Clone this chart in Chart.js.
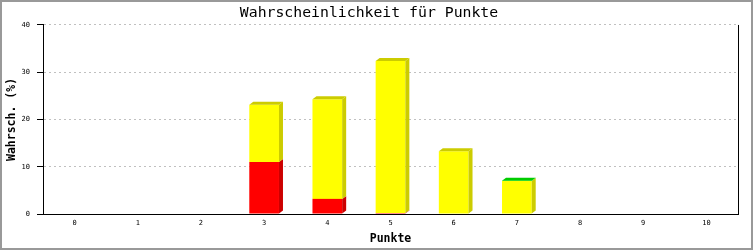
<!DOCTYPE html>
<html>
<head>
<meta charset="utf-8">
<script src="https://cdn.jsdelivr.net/npm/chart.js@4/dist/chart.umd.min.js"></script>
<style>
  body { margin: 0; background: #fff; }
  #wrap { width: 753px; height: 250px; }
</style>
</head>
<body>
<div id="wrap"><canvas id="myChart" width="753" height="250"></canvas></div>
<script>
// Kategorien und Werte
var punkte = ['0', '1', '2', '3', '4', '5', '6', '7', '8', '9', '10'];
var rot = [0, 0, 0, 11.0, 3.2, 0.2, 0, 0, 0, 0, 0];
var gelb = [0, 0, 0, 12.1, 21.1, 32.2, 13.3, 7.0, 0, 0, 0];
var gruen = [0, 0, 0, 0, 0, 0, 0, 0.05, 0, 0, 0];
var yTicks = [0, 10, 20, 30, 40];

var DX = 4, DY = 3;
var font = 'DejaVu Sans Mono';

// 3D-Seiten und Deckel der Balken
var plot3d = {
  id: 'plot3d',
  afterDatasetsDraw: function (chart) {
    var ctx = chart.ctx;
    var n = chart.data.labels.length;
    for (var i = 0; i < n; i++) {
      var topSeg = null;
      chart.data.datasets.forEach(function (ds, di) {
        var meta = chart.getDatasetMeta(di);
        var el = meta.data[i];
        if (!ds.data[i]) return;
        var p = el.getProps(['x', 'y', 'base', 'width'], true);
        var r = p.x + p.width / 2;
        ctx.save();
        ctx.fillStyle = ds.sideColor;
        ctx.beginPath();
        ctx.moveTo(r, p.y);
        ctx.lineTo(r + DX, p.y - DY);
        ctx.lineTo(r + DX, p.base - DY);
        ctx.lineTo(r, p.base);
        ctx.closePath();
        ctx.fill();
        ctx.restore();
        topSeg = { p: p, c: ds.sideColor };
      });
      if (topSeg) {
        var p = topSeg.p;
        var l = p.x - p.width / 2, r = p.x + p.width / 2;
        ctx.save();
        ctx.fillStyle = topSeg.c;
        ctx.beginPath();
        ctx.moveTo(l, p.y);
        ctx.lineTo(l + DX, p.y - DY);
        ctx.lineTo(r + DX, p.y - DY);
        ctx.lineTo(r, p.y);
        ctx.closePath();
        ctx.fill();
        ctx.restore();
      }
    }
  },
  afterDraw: function (chart) {
    var ctx = chart.ctx, a = chart.chartArea;
    ctx.save();
    ctx.strokeStyle = '#000';
    ctx.lineWidth = 1;
    ctx.beginPath();
    ctx.moveTo(Math.round(a.right) + 0.5, a.top);
    ctx.lineTo(Math.round(a.right) + 0.5, a.bottom);
    ctx.stroke();
    ctx.strokeStyle = '#999';
    ctx.lineWidth = 2;
    ctx.strokeRect(1, 1, chart.width - 2, chart.height - 2);
    ctx.restore();
  }
};

var ctx = document.getElementById('myChart');
new Chart(ctx, {
  type: 'bar',
  data: {
    labels: punkte,
    datasets: [
      { label: 'rot', data: rot, backgroundColor: '#ff0000', sideColor: '#cc0000' },
      { label: 'gelb', data: gelb, backgroundColor: '#ffff00', sideColor: '#cccc00' },
      { label: 'grün', data: gruen, backgroundColor: '#00ff00', sideColor: '#00cc00' }
    ]
  },
  options: {
    responsive: false,
    animation: false,
    layout: { padding: { left: 0, right: 15, top: 0, bottom: 0 } },
    datasets: { bar: { barPercentage: 0.47, categoryPercentage: 1 } },
    plugins: {
      legend: { display: false },
      tooltip: { enabled: false },
      title: {
        display: true,
        text: 'Wahrscheinlichkeit für Punkte',
        color: '#000',
        font: { family: font, size: 14.8, weight: 'normal', lineHeight: 1.2 },
        padding: { top: 4, bottom: 3.2 }
      }
    },
    scales: {
      x: {
        stacked: true,
        grid: { display: false, drawTicks: false },
        border: { color: '#000', width: 1 },
        ticks: { color: '#000', font: { family: font, size: 7 }, padding: 5, maxRotation: 0 },
        title: { display: true, text: 'Punkte', color: '#000', font: { family: font, size: 11.5, weight: 'bold' }, padding: { top: 2, bottom: 4 } },
        afterFit: function (s) { s.height = 36; }
      },
      y: {
        stacked: true,
        min: 0,
        max: 40,
        afterBuildTicks: function (s) { s.ticks = yTicks.map(function (v) { return { value: v }; }); },
        grid: { color: '#c0c0c0', tickColor: '#000', tickLength: 6, tickBorderDash: [] },
        border: { color: '#000', width: 1, dash: [2, 3] },
        ticks: { color: '#000', font: { family: font, size: 7 }, padding: 7 },
        title: { display: true, text: 'Wahrsch. (%)', color: '#000', font: { family: font, size: 11.5, weight: 'bold' }, padding: { top: 5, bottom: 4 } },
        afterFit: function (s) { s.width = 43; }
      }
    }
  },
  plugins: [plot3d]
});
</script>
</body>
</html>
